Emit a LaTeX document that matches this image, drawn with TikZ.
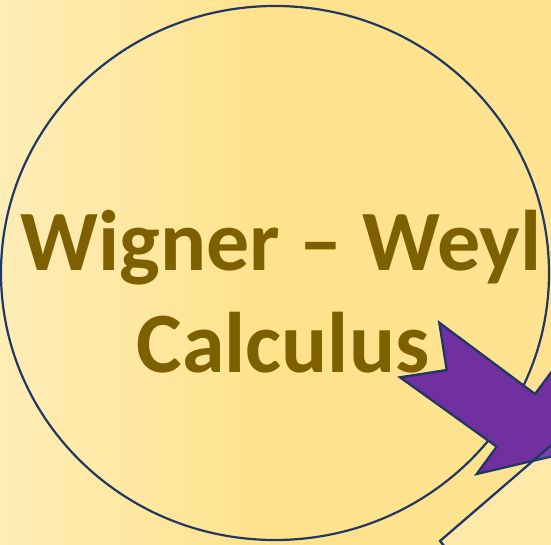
\documentclass[tikz,border=0pt]{standalone}
\usepackage{fontspec}
\setmainfont{Carlito}
\usetikzlibrary{shapes.geometric}
\definecolor{navy}{HTML}{1F3864}
\definecolor{arrowpurple}{HTML}{7030A0}
\definecolor{textgold}{HTML}{7F6000}
\definecolor{bgL}{HTML}{FFEDB6}
\definecolor{bgM}{HTML}{FFE28B}
\definecolor{bgR}{HTML}{FFE391}
\definecolor{shapefill}{HTML}{FFE9A9}
\tikzset{
  outline/.style={draw=navy, line width=2.3pt, line join=miter},
  title/.style={text=textgold, anchor=base, inner sep=0pt, font=\bfseries\fontsize{86}{100}\selectfont}
}
\begin{document}
\begin{tikzpicture}[x=1pt,y=-1pt]
\useasboundingbox (0,0) rectangle (551,545);
\clip (0,0) rectangle (551,545);
\shade[left color=bgL, right color=bgR, middle color=bgM] (-1,-1) rectangle (552,546);
% second shape (fill)
\coordinate (s1) at (440,541);
\coordinate (s2) at (563,435);
\coordinate (s3) at (660,540);
\coordinate (s4) at (540,660);
\fill[shapefill] (s1) -- (s2) -- (s3) -- (s4) -- cycle;
% circle
\node[ellipse, draw=navy, line width=2.2pt, minimum width=548pt, minimum height=534pt, inner sep=0pt] (circ) at (275,273) {};
% title
\node[title] (t1) at (281,270) {Wigner – Weyl};
\node[title] (t2) at (283,372) {Calculus};
% arrow
\coordinate (a1) at (439.3,322.7);
\coordinate (a2) at (535,394);
\coordinate (a3) at (554.4,368.1);
\coordinate (a4) at (560.7,454.3);
\coordinate (a5) at (476.7,474);
\coordinate (a6) at (496.7,446.7);
\coordinate (a7) at (400,377.3);
\coordinate (a8) at (446.7,370);
\filldraw[outline, fill=arrowpurple] (a1) -- (a2) -- (a3) -- (a4) -- (a5) -- (a6) -- (a7) -- (a8) -- cycle;
% light overlay of second shape on top of arrow
\begin{scope}
\clip (s1) -- (s2) -- (s3) -- (s4) -- cycle;
\fill[white, opacity=0.08] (a1) -- (a2) -- (a3) -- (a4) -- (a5) -- (a6) -- (a7) -- (a8) -- cycle;
\end{scope}
\draw[outline] (s1) -- (s2) -- (s3) -- (s4) -- cycle;
\end{tikzpicture}
\end{document}
